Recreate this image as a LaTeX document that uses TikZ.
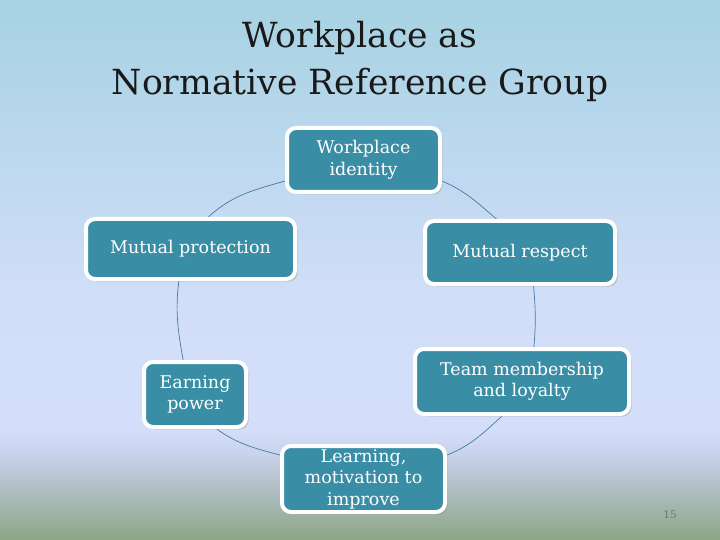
\documentclass[tikz,border=0pt]{standalone}
\usepackage{fontspec}
\setmainfont{DejaVu Serif}
\usepackage{xcolor}
\usetikzlibrary{positioning,calc,shadows}
\definecolor{petrol}{RGB}{57,142,165}
\definecolor{ringblue}{RGB}{72,122,162}
\definecolor{numgray}{RGB}{110,120,122}
\definecolor{bga}{RGB}{140,166,132}
\definecolor{bgb}{RGB}{168,184,182}
\definecolor{bgc}{RGB}{200,210,235}
\definecolor{bgd}{RGB}{212,222,250}
\definecolor{bge}{RGB}{210,222,248}
\definecolor{bgf}{RGB}{188,216,238}
\definecolor{bgg}{RGB}{166,210,226}
\pgfdeclareverticalshading{slidebg}{100bp}{color(0bp)=(bga); color(25bp)=(bga);
  color(28.7bp)=(bgb); color(32.9bp)=(bgc); color(35.2bp)=(bgd); color(47.2bp)=(bge);
  color(61.1bp)=(bgf); color(75bp)=(bgg); color(100bp)=(bgg)}
\pgfdeclarelayer{fondo}
\pgfdeclarelayer{anillo}
\pgfsetlayers{fondo,anillo,main}
\tikzset{
  cyclebox/.style={draw=white,line width=4pt,rounded corners=9pt,fill=petrol,text=white,
    align=center,inner sep=2pt,font=\fontsize{17.5}{21.5}\selectfont,
    drop shadow={opacity=0.3,shadow xshift=2.5pt,shadow yshift=-2.5pt}},
  ringline/.style={draw=ringblue,line width=0.7pt}
}
\begin{document}
\begin{tikzpicture}[x=1pt,y=1pt]
\useasboundingbox (0,0) rectangle (720,-540);
\begin{pgfonlayer}{fondo}
\shade[shading=slidebg] (0,0) rectangle (720,-540);
\end{pgfonlayer}
% title
\node[font=\fontsize{34.6}{47}\selectfont,align=center,text=black!90] (title) at (360,-61)
{Workplace as\\Normative Reference Group};
% the six boxes round the ring
\node[cyclebox,minimum width=153pt,minimum height=64pt] (wi) at (363.5,-160) {Workplace\\identity};
\node[cyclebox,minimum width=209pt,minimum height=60pt] (mp) at (190.5,-249) {Mutual protection};
\node[cyclebox,minimum width=190pt,minimum height=63pt] (mr) at (520,-252.5) {Mutual respect};
\node[cyclebox,minimum width=102pt,minimum height=65pt] (ep) at (195,-394.5) {Earning\\power};
\node[cyclebox,minimum width=214pt,minimum height=65pt] (tm) at (522,-381.5) {Team membership\\and loyalty};
\node[cyclebox,minimum width=163pt,minimum height=66pt] (lm) at (363.5,-479) {Learning,\\motivation to\\improve};
\node[font=\fontsize{10.5}{12}\selectfont,text=numgray] (num) at (670,-515) {15};
% ring
\begin{pgfonlayer}{anillo}
\draw[ringline] (wi.195) to[out=196,in=42] (mp.61);
\draw[ringline] (mp.250) to[out=263,in=100] (ep.109);
\draw[ringline] (ep.-58) to[out=-35,in=165] (lm.164);
\draw[ringline] (lm.16) to[out=22,in=222] (tm.240);
\draw[ringline] (tm.71) to[out=85,in=-85] (mr.-68);
\draw[ringline] (mr.125) to[out=140,in=-23] (wi.-15);
\end{pgfonlayer}
\end{tikzpicture}
\end{document}
